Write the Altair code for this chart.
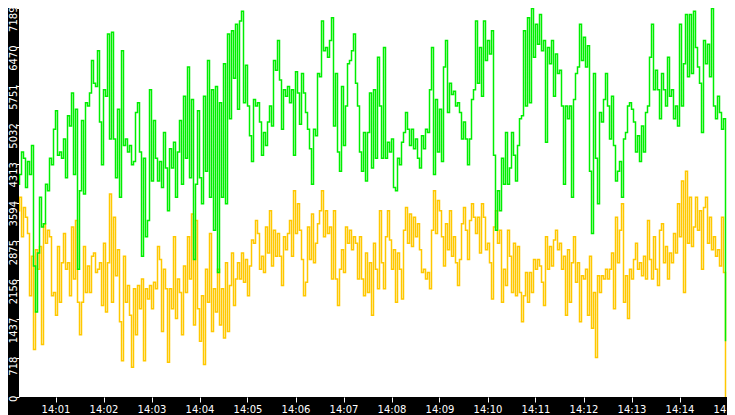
import altair as alt
import pandas as pd

# one sample every 2.5 s after 14:00:00
seconds = [2.5 * j for j in range(360)]

green = [
    2720, 3410, 2660, 4560, 2480, 3930, 4110, 4530, 4410, 3870,
    4350, 4110, 4650, 2420, 1570, 2660, 3690, 3140, 3200, 3930,
    3810, 4410, 4290, 4950, 5290, 4470, 4530, 4410, 4770, 4050,
    5200, 5010, 5620, 4110, 5320, 2360, 3810, 5110, 3750, 5440,
    5380, 5620, 6220, 5800, 5740, 6400, 5080, 4290, 5680, 5560,
    6710, 4770, 6740, 4770, 4050, 5320, 3690, 6400, 4650, 4770,
    4530, 4650, 4290, 4350, 5260, 5440, 4530, 2600, 4410, 2960,
    3260, 5680,
    3990, 5110, 4410, 3990, 4350, 3870, 4890, 4230,
    3440, 4590, 4230, 4710, 3690, 4530, 5110, 3930, 5560, 4410,
    6100, 4050, 5500, 2540, 3930, 5290, 4050, 3570, 5560, 4170,
    6220, 3690, 5680, 3080, 5740, 2300, 5440, 3690, 6160, 3570,
    6710, 5140, 6770, 5890, 6890, 5320, 6950, 7130, 5440, 6130,
    5380, 4830, 4350, 5500, 5380, 5440, 5080, 4470, 4890, 4650,
    5080, 5380, 5010, 6220, 6040, 6590, 5860, 4950, 5680, 5560,
    5740, 5440, 5680, 4470,
    6010, 5620, 5040, 5980, 5620, 5260,
    4950, 4590, 3930, 4950, 4830, 5980, 5920, 6950, 6400, 6460,
    6280, 6590, 7010, 5010, 5980, 4530, 4170, 5740, 4650, 5380,
    6160, 6220, 6400, 6710, 5800, 5380, 4530, 4170, 4890, 3990,
    4890, 5620, 4230, 5680, 4410, 6280, 5380, 4410, 6460, 4410,
    4710, 4530, 4770, 3870, 3810, 4410, 4290, 4710, 4890, 5260,
    4950, 4650, 4950, 4590, 4770, 4410, 4230, 4830, 4590, 4950,
    4890, 5680, 6460, 4110, 5500, 4530, 5320,
    4350, 6100, 6590,
    5260, 5800, 5590, 5650, 5380, 5440, 5260, 4770, 5080, 4770,
    4290, 4770, 5500, 5680, 6950, 5800, 6460, 5560, 6950, 6220,
    6590, 6340, 6770, 4470, 3080, 3810, 3440, 4410, 3930, 4890,
    3930, 4230, 4890, 4470, 3990, 4650, 5140, 5200, 6770, 5380,
    7010, 5440, 7180, 6280, 6890, 6520, 7070, 6400, 6590, 4710,
    6460, 6160, 6590, 5560, 6340, 5980, 6040, 5380, 3930, 5380,
    5140, 5380, 3690, 5500, 5980, 6100, 6890, 6220, 6650, 6100,
    6490, 4170, 3020, 5980, 4410, 3570, 5260, 5080, 5500, 5980,
    5380, 4770, 5560, 4650, 3990, 4170, 4350, 3690, 4770, 4890,
    5380, 5440, 5320, 5080, 4530, 4830, 4350, 5010, 4530, 5260,
    5380, 6280, 6890, 5680, 6040, 5680, 5140, 5980, 5680, 5380,
    6280, 5560, 5680, 5140, 5380, 5010, 6890, 5380, 6160, 7070,
    5920, 7070, 5980, 7130, 6460, 6100, 5800, 4890, 6590, 6160,
    6520, 5920, 7180, 5380, 5140, 5560, 5260, 4950, 5140, 1030,
]

yellow = [
    2360, 2840, 2120, 1630, 3320, 3440, 3690, 2960, 3500, 3320,
    3020, 1870, 2600, 880, 2720, 2360, 2780, 970, 3200, 2840,
    3080, 2960, 1870, 1930, 1510, 2780, 1750, 2480, 3020, 2360,
    2480, 1870, 3140, 2180, 3260, 1750, 1150, 1750, 2780, 1930,
    2420, 1930, 2600, 2660, 2300, 2360, 2480, 1690, 2840, 1570,
    2480, 3750, 1750, 3320, 2240, 2720, 1390, 670, 2600, 1750,
    2060, 1510, 550, 2000, 1150, 2060, 1630, 2180, 670, 2000,
    1810, 2060,
    1630, 2120, 2000, 2780, 2540, 1210, 2360, 2000,
    640, 2000, 1630, 2960, 1450, 2180, 1930, 1150, 2420, 1930,
    2960, 2180, 3380, 1330, 3260, 1630, 1030, 1870, 600, 2360,
    1750, 3020, 1210, 2000, 1570, 2360, 1330, 2000, 1090, 2480,
    1210, 2060, 2660, 1690, 2180, 2480, 2180, 2660, 2120, 2540,
    1870, 2420, 2900, 2840, 3260, 3020, 2360, 2600, 2300, 3140,
    2660, 3440, 2420, 3080, 2600, 3020, 2600, 2060, 2960, 2720,
    3020, 3260, 2600, 3810,
    3020, 3570, 3080, 2540, 1870, 2120,
    3140, 2540, 3380, 2480, 2840, 3200, 3440, 3810, 2960, 3440,
    3020, 3140, 2180, 3440, 2180, 1690, 2360, 2720, 2300, 3140,
    2840, 3080, 2720, 2960, 2840, 2180, 2960, 2180, 1870, 2660,
    1930, 2480, 1510, 2840, 2360, 2000, 3440, 2480, 2000, 2960,
    3440, 2900, 2360, 2720, 1750, 2660, 2360, 1810, 3080, 3500,
    2840, 3380, 2780, 3320, 2960, 3200, 2720, 2300, 2360, 2180,
    2300, 2000, 3080, 3810, 3020, 3630, 3440,
    2960, 2420, 3200,
    2720, 3440, 2600, 2960, 2480, 2060, 2540, 3200, 3500, 3080,
    2540, 3260, 3570, 3320, 3020, 3320, 2660, 3570, 3320, 2720,
    2840, 2480, 1810, 3140, 3440, 2840, 3080, 1750, 2360, 2060,
    3080, 2600, 1930, 2840, 1870, 2780, 1930, 1390, 1870, 2300,
    1750, 2300, 1930, 2540, 2360, 2540, 2420, 2120, 1690, 2960,
    2360, 2780, 2420, 2900, 3080, 2720, 2840, 2360, 2600, 1510,
    2720, 1750, 2480, 2960, 2120, 2480, 1390, 2240, 2180, 2360,
    1510, 2600, 1270, 1930, 730, 2240, 1930, 2240, 2180, 2360,
    2180, 2360, 2660, 1630, 3320, 2480, 3080, 3570, 1750, 2240,
    1450, 2360, 2180, 2540, 2840, 2360, 2480, 2240, 2600, 2180,
    3260, 2540, 2180, 2960, 2360, 2060, 3080, 3200, 2480, 2780,
    2180, 2660, 2480, 3020, 2660, 3570, 2960, 3990, 1930, 4170,
    2840, 3690, 2780, 3140, 3690, 3080, 3440, 2360, 3500, 3690,
    2840, 3320, 2720, 2960, 2600, 2720, 2420, 3320, 2300, 0,
]

y_ticks = [0, 718.9, 1437.8, 2156.7, 2875.6, 3594.5, 4313.4, 5032.3, 5751.2, 6470.1, 7189]
x_ticks = [60 * m for m in range(1, 16)]

df_g = pd.DataFrame({"t": seconds, "v": green})
df_y = pd.DataFrame({"t": seconds, "v": yellow})

x_enc = alt.X(
    "t:Q",
    scale=alt.Scale(domain=[15, 900], range=[0.5, 708.5], nice=False, zero=False),
    axis=alt.Axis(
        values=x_ticks,
        labelExpr="'14:' + (datum.value/60 < 10 ? '0' : '') + (datum.value/60)",
        tickColor="white", tickSize=5, tickWidth=1,
        labelColor="white", labelFont="DejaVu Sans", labelFontSize=10,
        labelPadding=2, domain=False, grid=False, title=None,
        labelFlush=False, labelBound=False, labelOverlap=False,
    ),
)
y_enc = alt.Y(
    "v:Q",
    scale=alt.Scale(domain=[0, 7189], nice=False, zero=True),
    axis=alt.Axis(
        values=y_ticks,
        labelExpr="floor(datum.value)",
        labelAngle=270, labelAlign="right", labelBaseline="alphabetic",
        labelOffset=-2,
        tickColor="white", tickSize=3, tickWidth=1,
        labelColor="white", labelFont="DejaVu Sans", labelFontSize=10,
        labelPadding=0, domain=False, grid=False, title=None,
        labelFlush=False, labelBound=False, labelOverlap=False,
    ),
)

yellow_line = alt.Chart(df_y).mark_line(
    interpolate="step-after", color="#ffc800", strokeWidth=1.5, clip=True
).encode(x=x_enc, y=y_enc)

green_line = alt.Chart(df_g).mark_line(
    interpolate="step-after", color="#00ee00", strokeWidth=1.5, clip=True
).encode(x=x_enc, y=y_enc)

chart = (
    alt.layer(yellow_line, green_line)
    .properties(
        width=708,
        height=389,
        autosize=alt.AutoSizeParams(type="none"),
        padding={"left": 11, "top": 0, "right": 0, "bottom": 18},
        background="black",
    )
    .configure_view(fill="white", stroke=None)
)

chart.save("out.html", embed_options={"renderer": "svg", "actions": False})
